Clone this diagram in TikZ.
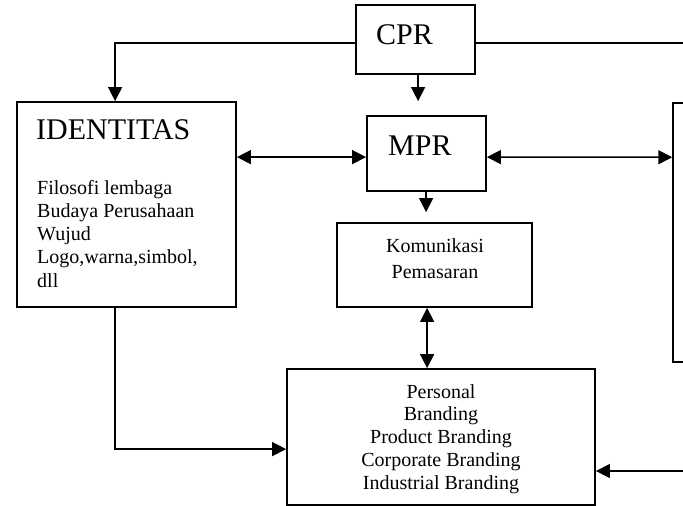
\documentclass[tikz,border=0pt]{standalone}
\usepackage{fontspec}
\setmainfont{Liberation Serif}
\usetikzlibrary{arrows.meta,calc}
\begin{document}
\begin{tikzpicture}[x=1pt,y=-1pt,
  box/.style={draw,line width=1.8pt,rectangle,inner sep=0pt},
  conn/.style={line width=1.5pt},
  tip/.style={-{Triangle[length=14pt,width=14pt]}},
  tips/.style={{Triangle[length=14pt,width=14pt]}-{Triangle[length=14pt,width=14pt]}},
  big/.style={inner sep=0pt,font=\fontsize{30}{34}\selectfont},
  body/.style={inner sep=0pt,font=\fontsize{20}{23}\selectfont}]
\clip (0,0) rectangle (683,506);
\fill[white] (0,0) rectangle (683,506);
% boxes
\node[box,minimum width=119pt,minimum height=69pt] (cpr) at (415.5,39.5) {};
\node[box,minimum width=119pt,minimum height=75pt] (mpr) at (426.5,153.5) {};
\node[box,minimum width=219pt,minimum height=205pt] (ident) at (126.5,204.5) {};
\node[box,minimum width=195pt,minimum height=84pt] (kom) at (434.5,265) {};
\node[box,minimum width=308pt,minimum height=136pt] (brand) at (441,437) {};
\node[box,line width=1.5pt,minimum width=60pt,minimum height=259pt] (rbox) at (703,232.5) {};
% texts
\node[big,anchor=base west] (cprt) at (376,44) {CPR};
\node[big,anchor=base west] (mprt) at (388,155) {MPR};
\node[big,anchor=base west] (identt) at (36,139) {IDENTITAS};
\foreach \t [count=\i] in {Filosofi lembaga,Budaya Perusahaan,Wujud,{Logo,warna,simbol,},dll}
  \node[body,anchor=base west] (idl\i) at (37,{194+23.25*(\i-1)}) {\t};
\node[body,anchor=base] (kom1) at (435,252) {Komunikasi};
\node[body,anchor=base] (kom2) at (435,278) {Pemasaran};
\foreach \t [count=\i] in {Personal,Branding,Product Branding,Corporate Branding,Industrial Branding}
  \node[body,anchor=base] (brl\i) at (441,{398+22.75*(\i-1)}) {\t};
% free ends
\coordinate (eTop) at (700,43);
\coordinate (eBot) at (700,471);
% connectors
\draw[conn,tip] (cpr.west |- eTop) -| ($(ident.north west)+(99,0)$);
\draw[conn] (cpr.east |- eTop) -- (eTop);
\draw[conn,tip,shorten >=14pt] ($(cpr.south west)+(63,0)$) -- ($(mpr.north west)+(52,0)$);
\draw[conn,tips] ($(ident.north east)+(0,56)$) -- ($(mpr.north west)+(0,42)$);
\draw[conn,tips] ($(mpr.north east)+(0,42)$) -- ($(rbox.north west)+(0,55)$);
\draw[conn,tip,shorten >=10pt] ($(mpr.south west)+(60,0)$) -- ($(kom.north west)+(90,0)$);
\draw[conn,tips] ($(kom.south west)+(91,0)$) -- ($(brand.north west)+(141,0)$);
\draw[conn,tip] ($(ident.south west)+(99,0)$) |- ($(brand.north west)+(0,81)$);
\draw[conn,tip] (eBot) -- (brand.east |- eBot);
\end{tikzpicture}
\end{document}
